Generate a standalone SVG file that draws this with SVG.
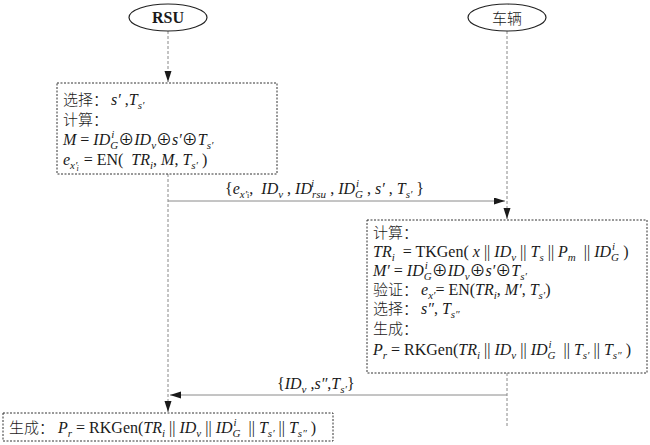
<svg xmlns="http://www.w3.org/2000/svg" width="650" height="445" viewBox="0 0 650 445">
<style>
.t{font-family:"Liberation Serif","Noto Sans CJK SC",serif;font-size:16px;fill:#1a1a1a}
.cn{font-family:"Noto Sans CJK SC",sans-serif;font-size:15px;font-weight:300}
.i{font-style:italic}
.s{font-size:11px}
.ss{font-size:8px}
.box{fill:#fff;stroke:#333;stroke-width:1;stroke-dasharray:2 1.5}
.life{stroke:#888;stroke-width:1;stroke-dasharray:3 2;fill:none}
.msg{stroke:#8a8a8a;stroke-width:1;fill:none}
.actor{fill:#fff;stroke:#222;stroke-width:1.2}
</style>
<defs>
<marker id="ah" markerUnits="userSpaceOnUse" markerWidth="12" markerHeight="8" refX="11" refY="3.5" orient="auto">
<path d="M0,0 L11,3.5 L0,7 z" fill="#1a1a1a"/>
</marker>
</defs>

<g id="connectors">
<line class="life" x1="168" y1="31" x2="168" y2="82" marker-end="url(#ah)"/>
<line class="life" x1="168" y1="174" x2="168" y2="412" marker-end="url(#ah)"/>
<line class="life" x1="507" y1="31" x2="507" y2="219" marker-end="url(#ah)"/>
<line class="life" x1="507" y1="373" x2="507" y2="428"/>
<line class="msg" x1="168" y1="201" x2="505" y2="201" marker-end="url(#ah)"/>
<line class="msg" x1="507" y1="395" x2="170" y2="395" marker-end="url(#ah)"/>
</g>

<g id="rsu">
<ellipse class="actor" cx="168" cy="17.5" rx="39" ry="13.5"/>
<text class="t" x="168" y="23" text-anchor="middle" font-weight="bold" font-size="15">RSU</text>
</g>

<g id="vehicle">
<ellipse class="actor" cx="507" cy="17.5" rx="39" ry="13.5"/>
<text class="t cn" x="507" y="24" text-anchor="middle" font-size="17">车辆</text>
</g>

<g id="rsu-box">
<rect class="box" x="57" y="83" width="220" height="91"/>
<text class="t" x="63" y="105"><tspan class="cn">选择：</tspan><tspan class="i" dx="3">s′</tspan> ,<tspan class="i">T</tspan><tspan class="i s" dy="4">s′</tspan></text>
<text class="t" x="63" y="125"><tspan class="cn">计算：</tspan></text>
<text class="t" x="63" y="145"><tspan class="i">M</tspan> = <tspan class="i">ID</tspan><tspan class="i s" dy="4">G</tspan><tspan class="i s" dx="-7" dy="-11">i</tspan><tspan dx="4" dy="7">⊕</tspan><tspan class="i">ID</tspan><tspan class="i s" dy="4">v</tspan><tspan dy="-4">⊕</tspan><tspan class="i">s′</tspan>⊕<tspan class="i">T</tspan><tspan class="i s" dy="4">s′</tspan></text>
<text class="t" x="63" y="165"><tspan class="i">e</tspan><tspan class="i s" dy="4">x′</tspan><tspan class="i ss" dx="-1" dy="2">i</tspan><tspan dx="1" dy="-6"> = EN(&#160; </tspan><tspan class="i">TR</tspan><tspan class="i s" dy="4">i</tspan><tspan dy="-4">, </tspan><tspan class="i">M</tspan>, <tspan class="i">T</tspan><tspan class="i s" dy="4">s′</tspan><tspan dy="-4">&#160;)</tspan></text>
</g>

<g id="msg1-label">
<text class="t" x="225" y="194">{<tspan class="i">e</tspan><tspan class="i s" dy="4">x′</tspan><tspan class="ss">i</tspan><tspan dy="-4">,&#160; </tspan><tspan class="i">ID</tspan><tspan class="i s" dy="4">v</tspan><tspan dy="-4"> , </tspan><tspan class="i">ID</tspan><tspan class="i s" dy="4">rsu</tspan><tspan class="i s" dx="-15" dy="-11">i</tspan><tspan dx="12" dy="7"> , </tspan><tspan class="i">ID</tspan><tspan class="i s" dy="4">G</tspan><tspan class="i s" dx="-7" dy="-11">i</tspan><tspan dx="4" dy="7"> , </tspan><tspan class="i">s′</tspan> , <tspan class="i">T</tspan><tspan class="i s" dy="4">s′</tspan><tspan dy="-4"> }</tspan></text>
</g>

<g id="vehicle-box">
<rect class="box" x="367" y="220" width="280" height="153"/>
<text class="t" x="373" y="238"><tspan class="cn">计算：</tspan></text>
<text class="t" x="373" y="257"><tspan class="i">TR</tspan><tspan class="i s" dy="4">i</tspan><tspan dy="-4">&#160; = TKGen( </tspan><tspan class="i">x</tspan>&#160;|| <tspan class="i">ID</tspan><tspan class="i s" dy="4">v</tspan><tspan dy="-4">&#160;|| </tspan><tspan class="i">T</tspan><tspan class="i s" dy="4">s</tspan><tspan dy="-4">&#160;|| </tspan><tspan class="i">P</tspan><tspan class="i s" dy="4">m</tspan><tspan dy="-4">&#160; || </tspan><tspan class="i">ID</tspan><tspan class="i s" dy="4">G</tspan><tspan class="i s" dx="-7" dy="-11">i</tspan><tspan dx="4" dy="7"> )</tspan></text>
<text class="t" x="373" y="276"><tspan class="i">M′</tspan> = <tspan class="i">ID</tspan><tspan class="i s" dy="4">G</tspan><tspan class="i s" dx="-7" dy="-11">i</tspan><tspan dx="4" dy="7">⊕</tspan><tspan class="i">ID</tspan><tspan class="i s" dy="4">v</tspan><tspan dy="-4">⊕</tspan><tspan class="i">s′</tspan>⊕<tspan class="i">T</tspan><tspan class="i s" dy="4">s′</tspan></text>
<text class="t" x="373" y="295"><tspan class="cn">验证：</tspan><tspan class="i" dx="3">e</tspan><tspan class="i s" dy="4">x′</tspan><tspan dy="-4">= EN(</tspan><tspan class="i">TR</tspan><tspan class="i s" dy="4">i</tspan><tspan dy="-4">, </tspan><tspan class="i">M′</tspan>, <tspan class="i">T</tspan><tspan class="i s" dy="4">s′</tspan><tspan dy="-4">)</tspan></text>
<text class="t" x="373" y="314"><tspan class="cn">选择：</tspan><tspan class="i" dx="3">s″</tspan>, <tspan class="i">T</tspan><tspan class="i s" dy="4">s″</tspan></text>
<text class="t" x="373" y="334"><tspan class="cn">生成：</tspan></text>
<text class="t" x="373" y="355"><tspan class="i">P</tspan><tspan class="i s" dy="4">r</tspan><tspan dy="-4"> = RKGen(</tspan><tspan class="i">TR</tspan><tspan class="i s" dy="4">i</tspan><tspan dy="-4">&#160;|| </tspan><tspan class="i">ID</tspan><tspan class="i s" dy="4">v</tspan><tspan dy="-4">&#160;|| </tspan><tspan class="i">ID</tspan><tspan class="i s" dy="4">G</tspan><tspan class="i s" dx="-7" dy="-11">i</tspan><tspan dx="4" dy="7">&#160; || </tspan><tspan class="i">T</tspan><tspan class="i s" dy="4">s′</tspan><tspan dy="-4">&#160;|| </tspan><tspan class="i">T</tspan><tspan class="i s" dy="4">s″</tspan><tspan dy="-4">&#160;)</tspan></text>
</g>

<g id="msg2-label">
<text class="t" x="277" y="389">{<tspan class="i">ID</tspan><tspan class="i s" dy="4">v</tspan><tspan dy="-4"> ,</tspan><tspan class="i">s″</tspan>,<tspan class="i">T</tspan><tspan class="i s" dy="4">s′</tspan><tspan dy="-4">}</tspan></text>
</g>

<g id="rsu-result">
<rect class="box" x="3" y="413" width="330" height="28"/>
<text class="t" x="9" y="433"><tspan class="cn">生成：</tspan><tspan class="i" dx="4">P</tspan><tspan class="i s" dy="4">r</tspan><tspan dy="-4"> = RKGen(</tspan><tspan class="i">TR</tspan><tspan class="i s" dy="4">i</tspan><tspan dy="-4">&#160;|| </tspan><tspan class="i">ID</tspan><tspan class="i s" dy="4">v</tspan><tspan dy="-4">&#160;|| </tspan><tspan class="i">ID</tspan><tspan class="i s" dy="4">G</tspan><tspan class="i s" dx="-7" dy="-11">i</tspan><tspan dx="4" dy="7">&#160; || </tspan><tspan class="i">T</tspan><tspan class="i s" dy="4">s′</tspan><tspan dy="-4">&#160;|| </tspan><tspan class="i">T</tspan><tspan class="i s" dy="4">s″</tspan><tspan dy="-4">&#160;)</tspan></text>
</g>
</svg>
